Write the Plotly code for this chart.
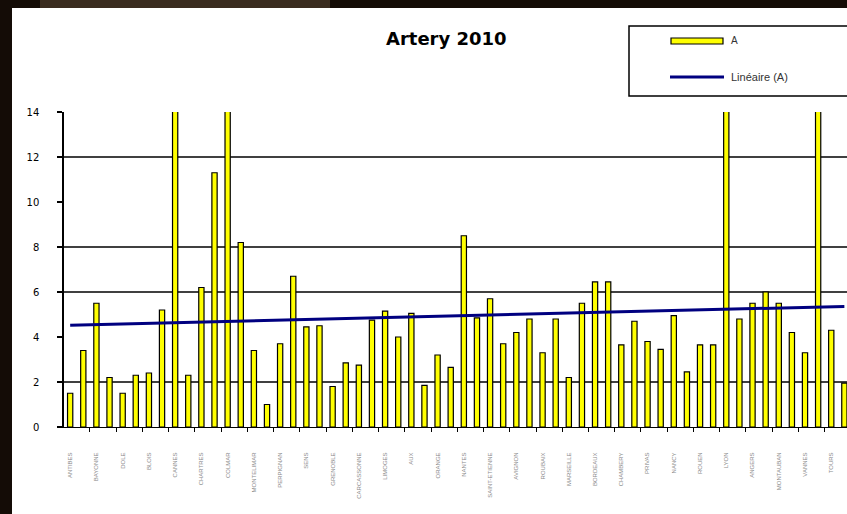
import numpy as np
import plotly.graph_objects as go

# ---- data ----
categories = [
    "ANTIBES", "AGEN", "BAYONNE", "BREST", "DOLE", "DAX", "BLOIS", "BOURGES",
    "CANNES", "CAEN", "CHARTRES", "CHOLET", "COLMAR", "CREIL", "MONTELIMAR", "MEAUX",
    "PERPIGNAN", "PAU", "SENS", "SETE", "GRENOBLE", "GAP", "CARCASSONNE", "LAVAL",
    "LIMOGES", "LENS", "AUX", "LILLE", "ORANGE", "ORLEANS", "NANTES", "NIMES",
    "SAINT-ETIENNE", "SEDAN", "AVIGNON", "AMIENS", "ROUBAIX", "REIMS", "MARSEILLE", "METZ",
    "BORDEAUX", "BEZIERS", "CHAMBERY", "CALAIS", "PRIVAS", "PARIS", "NANCY", "NIORT",
    "ROUEN", "RODEZ", "LYON", "LORIENT", "ANGERS", "ARRAS", "MONTAUBAN", "MULHOUSE",
    "VANNES", "VICHY", "TOURS", "TOULON",
]
values_a = [
    1.5, 3.4, 5.5, 2.2, 1.5, 2.3, 2.4, 5.2, 15.0, 2.3,
    6.2, 11.3, 15.0, 8.2, 3.4, 1.0, 3.7, 6.7, 4.45, 4.5,
    1.8, 2.85, 2.75, 4.75, 5.15, 4.0, 5.05, 1.85, 3.2, 2.65,
    8.5, 4.85, 5.7, 3.7, 4.2, 4.8, 3.3, 4.8, 2.2, 5.5,
    6.45, 6.45, 3.65, 4.7, 3.8, 3.45, 4.95, 2.45, 3.65, 3.65,
    15.2, 4.8, 5.5, 6.0, 5.5, 4.2, 3.3, 15.1, 4.3, 1.95,
]
y_ticks = [0, 2, 4, 6, 8, 10, 12, 14]
grid_values = [2, 6, 8, 12]
title_text = "Artery 2010"
series_name = "A"
trend_name = "Linéaire (A)"

# linear trend (Excel-style) computed from the series
idx = np.arange(len(values_a))
slope, intercept = np.polyfit(idx, np.array(values_a), 1)
trend = (slope * idx + intercept).tolist()

W, H = 847, 514
L, R, T, B = 64, 0, 112, 87
PW, PH = W - L - R, H - T - B


def px(x):
    return (x - L) / PW


def py(y):
    return (H - B - y) / PH


fig = go.Figure()
fig.add_trace(go.Bar(
    x=categories, y=values_a, name=series_name,
    marker=dict(color="#FFFF00", line=dict(color="#000000", width=1.2)),
    showlegend=False,
))
fig.add_trace(go.Scatter(
    x=categories, y=trend, name=trend_name, mode="lines",
    line=dict(color="#000080", width=3),
    showlegend=False,
))

shapes = []
# white panel over dark frame
shapes.append(dict(type="rect", xref="paper", yref="paper",
                   x0=px(12), x1=px(W + 10), y0=py(H + 10), y1=py(8),
                   fillcolor="#FFFFFF", line=dict(width=0), layer="below"))
# lighter brown glow on top strip
shapes.append(dict(type="rect", xref="paper", yref="paper",
                   x0=px(40), x1=px(330), y0=py(8), y1=py(-2),
                   fillcolor="#3a2c1f", line=dict(width=0), layer="below"))
# horizontal gridlines
for g in grid_values:
    shapes.append(dict(type="line", xref="paper", yref="y", x0=0, x1=1, y0=g, y1=g,
                       line=dict(color="#000000", width=1.5), layer="below"))
# legend box
shapes.append(dict(type="rect", xref="paper", yref="paper",
                   x0=px(629), x1=px(W + 10), y0=py(96), y1=py(26),
                   fillcolor="#FFFFFF", line=dict(color="#000000", width=1.5)))
shapes.append(dict(type="rect", xref="paper", yref="paper",
                   x0=px(671), x1=px(723), y0=py(44), y1=py(38),
                   fillcolor="#FFFF00", line=dict(color="#000000", width=1.2)))
shapes.append(dict(type="line", xref="paper", yref="paper",
                   x0=px(670), x1=px(724), y0=py(77), y1=py(77),
                   line=dict(color="#000080", width=3)))

annotations = [
    dict(text="<b>" + title_text + "</b>", xref="paper", yref="paper",
         x=px(446), y=py(39), showarrow=False, xanchor="center", yanchor="middle",
         font=dict(family="DejaVu Sans", size=18, color="#000000")),
    dict(text=series_name, xref="paper", yref="paper", x=px(729), y=py(41),
         showarrow=False, xanchor="left", yanchor="middle",
         font=dict(family="Liberation Sans", size=10, color="#333333")),
    dict(text=trend_name, xref="paper", yref="paper", x=px(729), y=py(77),
         showarrow=False, xanchor="left", yanchor="middle",
         font=dict(family="Liberation Sans", size=11, color="#333333")),
]

fig.update_layout(
    width=W, height=H,
    margin=dict(l=L, r=R, t=T, b=B, pad=0),
    paper_bgcolor="#140c06",
    plot_bgcolor="#C0C0C0",
    bargap=0.6,
    showlegend=False,
    shapes=shapes,
    annotations=annotations,
    font=dict(family="DejaVu Sans"),
)
fig.update_xaxes(
    type="category", range=[-0.47, 59.2],
    tickmode="linear", tick0=0, dtick=2,
    tickangle=-90, tickfont=dict(family="Liberation Sans", size=6, color="#8a8a8a"),
    ticks="outside", ticklen=4, tickcolor="#000000", tickson="boundaries",
    ticklabelstandoff=22,
    showline=True, linecolor="#000000", linewidth=1,
    showgrid=False, zeroline=False, fixedrange=True,
)
fig.update_yaxes(
    range=[0, 14], tickmode="array", tickvals=y_ticks,
    ticktext=[str(v) for v in y_ticks],
    tickfont=dict(family="DejaVu Sans", size=10, color="#000000"),
    ticks="outside", ticklen=5, tickcolor="#000000", tickwidth=1.5,
    ticklabelstandoff=16,
    showline=True, linecolor="#000000", linewidth=1.5,
    showgrid=False, zeroline=False, fixedrange=True,
)

fig.write_html(
    "out.html",
    config={"displayModeBar": False},
    post_script="document.body.style.margin='0';document.body.style.overflow='hidden';",
)
